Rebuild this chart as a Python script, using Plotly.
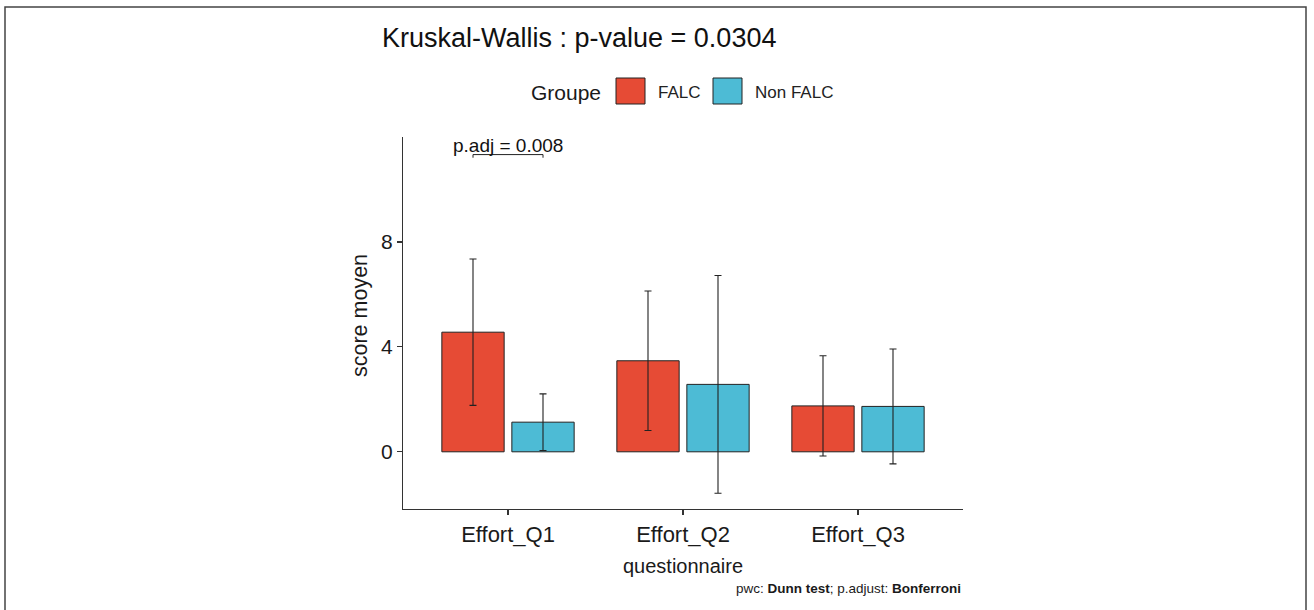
import plotly.graph_objects as go

# ---------------- data ----------------
categories = ["Effort_Q1", "Effort_Q2", "Effort_Q3"]
groups = ["FALC", "Non FALC"]
falc_mean = [4.56, 3.47, 1.75]
falc_sd = [2.79, 2.66, 1.91]
nonfalc_mean = [1.13, 2.57, 1.73]
nonfalc_sd = [1.08, 4.15, 2.19]
y_ticks = [0, 4, 8]
title_text = "Kruskal-Wallis : p-value = 0.0304"
pair_label = "p.adj = 0.008"
pair_category_index = 0
pair_y = 11.33
caption_html = "pwc: <b>Dunn test</b>; p.adjust: <b>Bonferroni</b>"

colors = {"FALC": "#E64B35", "Non FALC": "#4DBBD5"}
FONT = "Arial, 'Liberation Sans', sans-serif"

W, H = 1314, 610
L, R, T, B = 403, 963, 137, 509  # plot area in px


def px2x(px):
    return (px - L) / (R - L)


def py2y(py):
    return (B - py) / (B - T)


fig = go.Figure()
for name, means, sds in [("FALC", falc_mean, falc_sd), ("Non FALC", nonfalc_mean, nonfalc_sd)]:
    fig.add_trace(go.Bar(
        name=name, x=categories, y=means,
        marker=dict(color=colors[name], line=dict(color="#222222", width=1)),
        error_y=dict(type="data", array=sds, visible=True, color="#222222", thickness=1.1, width=3.5),
        showlegend=False,
    ))

fig.update_layout(
    width=W, height=H,
    margin=dict(l=L, r=W - R, t=T, b=H - B, pad=0),
    paper_bgcolor="white", plot_bgcolor="white",
    barmode="group", bargap=0.2, bargroupgap=0.11,
    font=dict(family=FONT, color="#1a1a1a"),
    title=dict(text=title_text, x=382 / W, xanchor="left", y=1 - 38 / H, yanchor="middle",
               font=dict(size=27, color="#111111", family=FONT)),
)

fig.update_xaxes(
    type="category", range=[-0.6, 2.6],
    showline=True, linecolor="#333333", linewidth=1.2,
    ticks="outside", ticklen=5, tickcolor="#333333", tickwidth=1.2,
    tickfont=dict(size=22, color="#1a1a1a"), showgrid=False, zeroline=False,
)
fig.update_yaxes(
    range=[-2.18, 12.0], tickvals=y_ticks, ticktext=[str(v) for v in y_ticks],
    showline=True, linecolor="#333333", linewidth=1.2,
    ticks="outside", ticklen=5, tickcolor="#333333", tickwidth=1.2,
    tickfont=dict(size=21, color="#1a1a1a"), showgrid=False, zeroline=False,
)

annotations = []
shapes = []

# axis titles
annotations.append(dict(text="score moyen", x=px2x(360), y=py2y(316), xref="paper", yref="paper",
                        textangle=-90, showarrow=False, xanchor="center", yanchor="middle",
                        font=dict(size=21.5, color="#1a1a1a")))
annotations.append(dict(text="questionnaire", x=0.5, y=py2y(566), xref="paper", yref="paper",
                        showarrow=False, xanchor="center", yanchor="middle",
                        font=dict(size=20, color="#1a1a1a")))
# caption
annotations.append(dict(text=caption_html, x=px2x(963), y=py2y(588), xref="paper", yref="paper",
                        showarrow=False, xanchor="right", yanchor="middle",
                        font=dict(size=13.5, color="#1a1a1a")))

# legend (manual, large keys)
annotations.append(dict(text="Groupe", x=px2x(603), y=py2y(92), xref="paper", yref="paper",
                        showarrow=False, xanchor="right", yanchor="middle",
                        font=dict(size=21, color="#1a1a1a")))
legend_keys = [("FALC", 616, 645, 656), ("Non FALC", 713, 742, 753)]
for g, x0, x1, tx in legend_keys:
    shapes.append(dict(type="rect", xref="paper", yref="paper",
                       x0=px2x(x0), x1=px2x(x1), y0=py2y(104), y1=py2y(78),
                       fillcolor=colors[g], line=dict(color="#222222", width=1)))
    annotations.append(dict(text=g, x=px2x(tx), y=py2y(92), xref="paper", yref="paper",
                            showarrow=False, xanchor="left", yanchor="middle",
                            font=dict(size=17, color="#222222")))

# pairwise comparison bracket
off = 0.2
cx = pair_category_index
shapes.append(dict(type="path", xref="x", yref="y",
                   path=f"M {cx - off} {pair_y - 0.12} L {cx - off} {pair_y} L {cx + off} {pair_y} L {cx + off} {pair_y - 0.12}",
                   line=dict(color="#222222", width=1)))
annotations.append(dict(text=pair_label, x=categories[cx], y=pair_y, xref="x", yref="y",
                        showarrow=False, xanchor="center", yanchor="bottom", yshift=-3,
                        font=dict(size=19, color="#111111")))

# outer frame
shapes.append(dict(type="rect", xref="paper", yref="paper",
                   x0=px2x(5), x1=px2x(1306), y0=py2y(625), y1=py2y(7),
                   line=dict(color="#444444", width=1.5), fillcolor="rgba(0,0,0,0)", layer="above"))

fig.update_layout(annotations=annotations, shapes=shapes)
fig.write_html("out.html",
               config={"displayModeBar": False, "staticPlot": True},
               post_script="document.body.style.margin='0';document.body.style.overflow='hidden';")
